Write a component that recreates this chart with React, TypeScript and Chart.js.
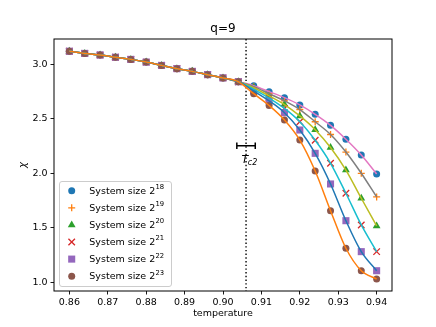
import React, { useEffect, useRef } from "react";
import { Chart, registerables } from "chart.js";
Chart.register(...registerables);

const temperatures = [0.860, 0.864, 0.868, 0.872, 0.876, 0.880, 0.884, 0.888, 0.892, 0.896, 0.900, 0.904, 0.908, 0.912, 0.916, 0.920, 0.924, 0.928, 0.932, 0.936, 0.940];
const chi18 = [3.12, 3.10, 3.085, 3.065, 3.045, 3.02, 2.99, 2.96, 2.935, 2.905, 2.875, 2.84, 2.803, 2.749, 2.694, 2.627, 2.541, 2.44, 2.313, 2.168, 1.994];
const chi19 = [3.12, 3.10, 3.085, 3.065, 3.045, 3.02, 2.99, 2.96, 2.935, 2.905, 2.875, 2.84, 2.795, 2.73, 2.665, 2.585, 2.473, 2.356, 2.195, 2.0, 1.783];
const chi20 = [3.12, 3.10, 3.085, 3.065, 3.045, 3.02, 2.99, 2.96, 2.935, 2.905, 2.875, 2.84, 2.785, 2.71, 2.63, 2.526, 2.40, 2.237, 2.03, 1.771, 1.517];
const chi21 = [3.12, 3.10, 3.085, 3.065, 3.045, 3.02, 2.99, 2.96, 2.935, 2.905, 2.875, 2.84, 2.77, 2.69, 2.595, 2.473, 2.303, 2.092, 1.817, 1.526, 1.281];
const chi22 = [3.12, 3.10, 3.085, 3.065, 3.045, 3.02, 2.99, 2.96, 2.935, 2.905, 2.875, 2.84, 2.755, 2.665, 2.556, 2.397, 2.183, 1.902, 1.565, 1.281, 1.106];
const chi23 = [3.12, 3.10, 3.085, 3.065, 3.045, 3.02, 2.99, 2.96, 2.935, 2.905, 2.875, 2.84, 2.73, 2.622, 2.489, 2.305, 2.021, 1.657, 1.312, 1.106, 1.030];
const sizeExponents = ["18", "19", "20", "21", "22", "23"];
const xTickValues = [0.86, 0.87, 0.88, 0.89, 0.90, 0.91, 0.92, 0.93, 0.94];
const yTickValues = [1.0, 1.5, 2.0, 2.5, 3.0];
const tc2 = 0.906;
const tc2Err = 0.0024;
const tc2Chi = 2.253;

const allSeries = [chi18, chi19, chi20, chi21, chi22, chi23];
const markerColors = ["#1f77b4", "#ff7f0e", "#2ca02c", "#d62728", "#9467bd", "#8c564b"];
const lineColors = ["#e377c2", "#7f7f7f", "#bcbd22", "#17becf", "#1f77b4", "#ff7f0e"];
const markerStyles = ["circle", "cross", "triangle", "crossRot", "rect", "circle"];
const markerRadii = [3.5, 3.5, 4.5, 4.6, 5, 3.5];

const FONT = "'DejaVu Sans', sans-serif";

function drawMarker(ctx: CanvasRenderingContext2D, style: string, x: number, y: number, r: number, color: string) {
  ctx.save();
  ctx.fillStyle = color;
  ctx.strokeStyle = color;
  ctx.lineWidth = 1.3;
  ctx.beginPath();
  if (style === "circle") {
    ctx.arc(x, y, r, 0, Math.PI * 2);
    ctx.fill();
  } else if (style === "cross") {
    ctx.moveTo(x - r, y); ctx.lineTo(x + r, y);
    ctx.moveTo(x, y - r); ctx.lineTo(x, y + r);
    ctx.stroke();
  } else if (style === "crossRot") {
    const d = r * 0.707;
    ctx.moveTo(x - d, y - d); ctx.lineTo(x + d, y + d);
    ctx.moveTo(x - d, y + d); ctx.lineTo(x + d, y - d);
    ctx.stroke();
  } else if (style === "triangle") {
    ctx.moveTo(x, y - r);
    ctx.lineTo(x + r * 0.866, y + r * 0.5);
    ctx.lineTo(x - r * 0.866, y + r * 0.5);
    ctx.closePath();
    ctx.fill();
  } else if (style === "rect") {
    const d = r * 0.707;
    ctx.rect(x - d, y - d, 2 * d, 2 * d);
    ctx.fill();
  }
  ctx.restore();
}

const decorPlugin = {
  id: "decor",
  beforeDatasetsDraw(chart: any) {
    const { ctx, chartArea, scales } = chart;
    const x = scales.x.getPixelForValue(tc2);
    ctx.save();
    ctx.strokeStyle = "#000";
    ctx.lineWidth = 1.4;
    ctx.setLineDash([1.4, 2.3]);
    ctx.beginPath();
    ctx.moveTo(x, chartArea.top);
    ctx.lineTo(x, chartArea.bottom);
    ctx.stroke();
    ctx.restore();
  },
  afterDraw(chart: any) {
    const { ctx, chartArea, scales } = chart;
    const { left, right, top, bottom } = chartArea;
    ctx.save();
    // frame
    ctx.strokeStyle = "#000";
    ctx.lineWidth = 1;
    ctx.strokeRect(left, top, right - left, bottom - top);
    // title
    ctx.fillStyle = "#000";
    ctx.textAlign = "center";
    ctx.textBaseline = "middle";
    ctx.font = `12px ${FONT}`;
    ctx.fillText("q=9", (left + right) / 2, 29);
    // axis labels
    ctx.font = `9.5px ${FONT}`;
    ctx.fillText("temperature", (left + right) / 2, 314);
    ctx.save();
    ctx.translate(23, (top + bottom) / 2);
    ctx.rotate(-Math.PI / 2);
    ctx.font = `italic 10px ${FONT}`;
    ctx.fillText("χ", 0, 0);
    ctx.restore();
    // errorbar for Tc2
    const x0 = scales.x.getPixelForValue(tc2 - tc2Err);
    const x1 = scales.x.getPixelForValue(tc2 + tc2Err);
    const ey = scales.y.getPixelForValue(tc2Chi);
    ctx.lineWidth = 1.5;
    ctx.beginPath();
    ctx.moveTo(x0, ey); ctx.lineTo(x1, ey);
    ctx.moveTo(x0, ey - 3.3); ctx.lineTo(x0, ey + 3.3);
    ctx.moveTo(x1, ey - 3.3); ctx.lineTo(x1, ey + 3.3);
    ctx.stroke();
    // T_c2 label
    const tx = scales.x.getPixelForValue(tc2) - 4.5;
    ctx.textAlign = "left";
    ctx.textBaseline = "alphabetic";
    ctx.font = `italic 11px ${FONT}`;
    ctx.fillText("T", tx, 162.5);
    const tw = ctx.measureText("T").width;
    ctx.font = `italic 8px ${FONT}`;
    ctx.fillText("c2", tx + tw - 0.5, 165);
    // legend
    const lx = 59, ly = 181, lw = 112, lh = 105;
    ctx.fillStyle = "rgba(255,255,255,0.8)";
    ctx.strokeStyle = "#cccccc";
    ctx.lineWidth = 1;
    ctx.beginPath();
    (ctx as any).roundRect(lx + 0.5, ly + 0.5, lw, lh, 2.5);
    ctx.fill();
    ctx.stroke();
    for (let i = 0; i < sizeExponents.length; i++) {
      const rowY = 190.7 + i * 17.1;
      drawMarker(ctx, markerStyles[i], 71.7, rowY, markerRadii[i], markerColors[i]);
      ctx.fillStyle = "#000";
      ctx.font = `9.5px ${FONT}`;
      ctx.textBaseline = "middle";
      ctx.fillText("System size 2", 89.3, rowY + 0.5);
      const w = ctx.measureText("System size 2").width;
      ctx.font = `6.8px ${FONT}`;
      ctx.fillText(sizeExponents[i], 89.3 + w + 0.3, rowY - 3.3);
    }
    ctx.restore();
  },
};

export default function App() {
  const canvasRef = useRef<HTMLCanvasElement | null>(null);
  useEffect(() => {
    const canvas = canvasRef.current;
    if (!canvas) return;
    const datasets: any[] = [];
    allSeries.forEach((series, i) => {
      const filled = markerStyles[i] !== "cross" && markerStyles[i] !== "crossRot";
      datasets.push({
        label: "System size 2^" + sizeExponents[i],
        data: temperatures.map((t, k) => ({ x: t, y: series[k] })),
        showLine: false,
        pointStyle: markerStyles[i],
        pointRadius: markerRadii[i],
        pointBackgroundColor: markerColors[i],
        pointBorderColor: markerColors[i],
        pointBorderWidth: filled ? 0 : 1.3,
        order: 100 - i,
      });
    });
    allSeries.forEach((series, i) => {
      datasets.push({
        label: "fit " + sizeExponents[i],
        data: temperatures.map((t, k) => ({ x: t, y: series[k] })),
        showLine: true,
        borderColor: lineColors[i],
        borderWidth: 1.5,
        pointRadius: 0,
        cubicInterpolationMode: "monotone",
        fill: false,
        order: 50 - i,
      });
    });
    const chart = new Chart(canvas, {
      type: "scatter",
      data: { datasets },
      options: {
        animation: false,
        responsive: false,
        devicePixelRatio: 1,
        layout: { padding: { top: 39, right: 44, left: 0, bottom: 0 } },
        plugins: { legend: { display: false }, tooltip: { enabled: false }, title: { display: false } },
        scales: {
          x: {
            type: "linear",
            min: 0.856,
            max: 0.944,
            afterBuildTicks: (scale: any) => { scale.ticks = xTickValues.map((v) => ({ value: v })); },
            afterFit: (scale: any) => { scale.height = 36; },
            grid: { drawOnChartArea: false, drawTicks: true, tickLength: 3.5, tickColor: "#000", tickWidth: 0.9 },
            border: { display: false },
            ticks: { color: "#000", padding: 2.5, maxRotation: 0, autoSkip: false, font: { family: FONT, size: 9.5 }, callback: (v: any) => Number(v).toFixed(2) },
          },
          y: {
            type: "linear",
            min: 0.92,
            max: 3.232,
            afterBuildTicks: (scale: any) => { scale.ticks = yTickValues.map((v) => ({ value: v })); },
            afterFit: (scale: any) => { scale.width = 54; },
            grid: { drawOnChartArea: false, drawTicks: true, tickLength: 3.5, tickColor: "#000", tickWidth: 0.9 },
            border: { display: false },
            ticks: { color: "#000", padding: 3, autoSkip: false, font: { family: FONT, size: 9.5 }, callback: (v: any) => Number(v).toFixed(1) },
          },
        },
      },
      plugins: [decorPlugin],
    } as any);
    return () => chart.destroy();
  }, []);
  return (
    <div style={{ position: "fixed", left: 0, top: 0, width: 436, height: 327, background: "#fff" }}>
      <canvas ref={canvasRef} width={436} height={327} style={{ width: 436, height: 327, display: "block" }} />
    </div>
  );
}
